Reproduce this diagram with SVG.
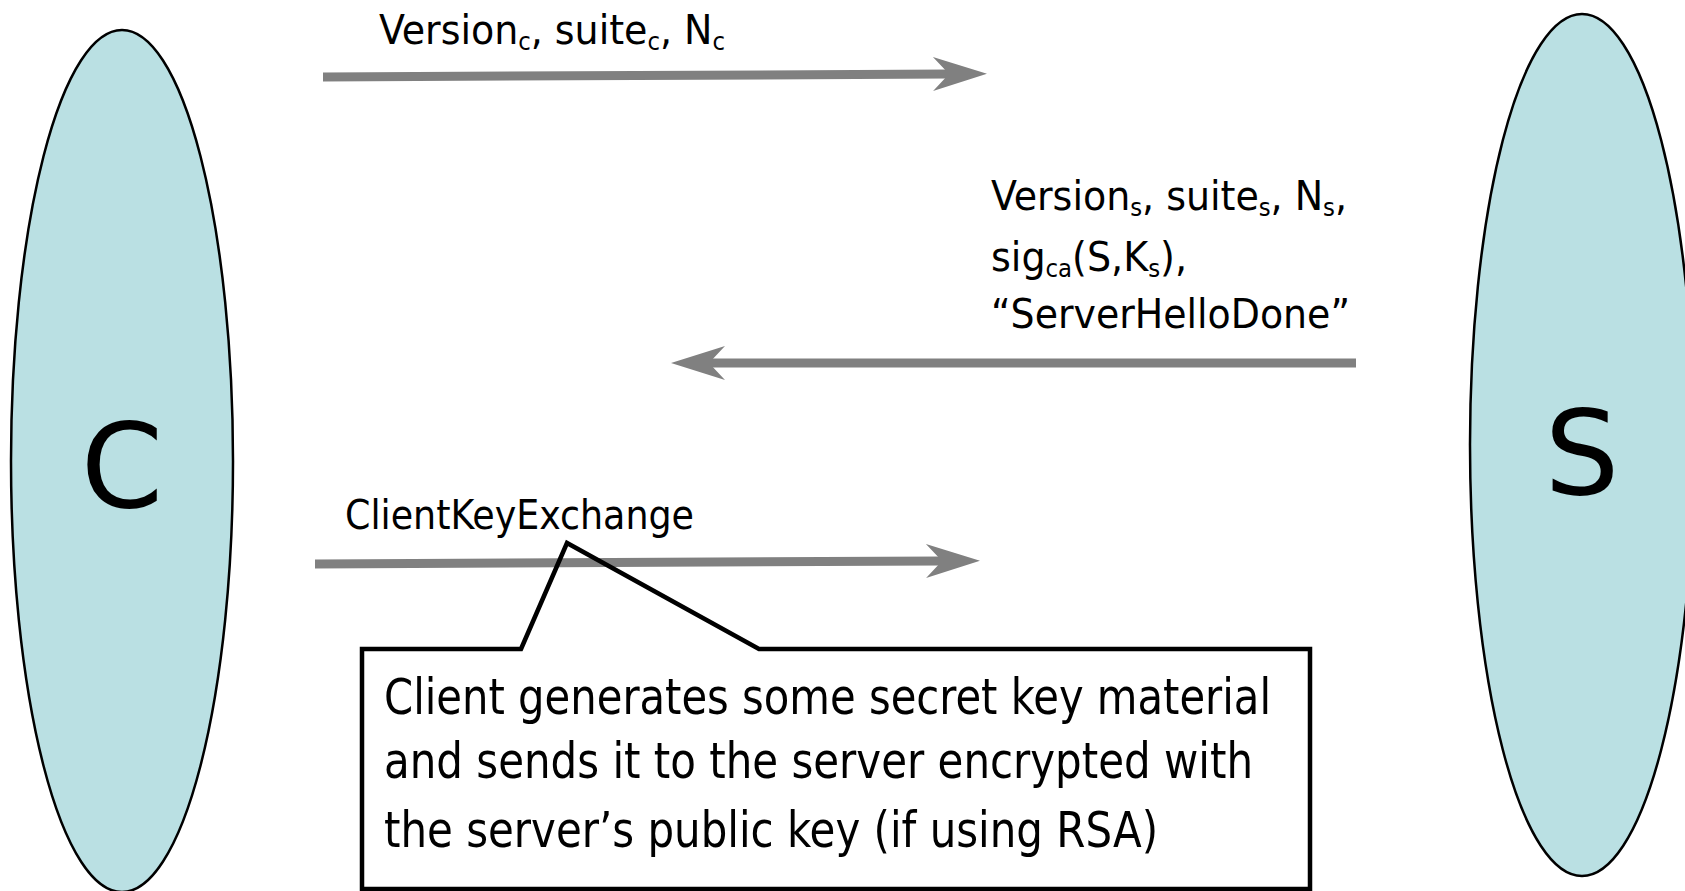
<svg xmlns="http://www.w3.org/2000/svg" width="1685" height="891" viewBox="0 0 1685 891">
  <style>
    .party { fill: #BAE0E3; stroke: #000; stroke-width: 2.5; }
    .party-label { font-family: "DejaVu Sans", "Liberation Sans", sans-serif; font-size: 118px; fill: #000; text-anchor: middle; }
    .msg { font-family: "DejaVu Sans Condensed", "DejaVu Sans", sans-serif; font-size: 40px; fill: #000; }
    .note { font-family: "DejaVu Sans Condensed", "DejaVu Sans", sans-serif; font-size: 50px; fill: #000; }
    .sub { font-size: 24px; }
    .flow { stroke: #808080; stroke-width: 9; fill: none; }
    .callout { fill: none; stroke: #000; stroke-width: 4.5; stroke-linejoin: miter; }
  </style>
  <defs>
    <!-- barbed head; reference point sits in the notch so the shaft stops there -->
    <marker id="head" markerUnits="userSpaceOnUse" viewBox="-2 -19 60 38" refX="16" refY="0" markerWidth="60" markerHeight="38" orient="auto">
      <path d="M54,0 L0,-17 L16,0 L0,17 Z" fill="#808080"/>
    </marker>
  </defs>

  <rect width="1685" height="891" fill="#fff"/>

  <!-- Client -->
  <g id="client">
    <ellipse class="party" cx="122" cy="461" rx="111" ry="431"/>
    <text class="party-label" x="122" y="507">C</text>
  </g>

  <!-- Server -->
  <g id="server">
    <ellipse class="party" cx="1582" cy="445" rx="112" ry="431"/>
    <text class="party-label" x="1582" y="494">S</text>
  </g>

  <!-- Messages -->
  <g id="connectors">
    <line class="flow" x1="323" y1="77" x2="949" y2="74" marker-end="url(#head)"/>
    <line class="flow" x1="1356" y1="363" x2="709" y2="363" marker-end="url(#head)"/>
    <line class="flow" x1="315" y1="564" x2="942" y2="561" marker-end="url(#head)"/>
  </g>

  <g id="client-hello-label">
    <text class="msg" x="379" y="44" textLength="346" lengthAdjust="spacingAndGlyphs">Version<tspan class="sub" dy="6">c</tspan><tspan dy="-6">, suite</tspan><tspan class="sub" dy="6">c</tspan><tspan dy="-6">, N</tspan><tspan class="sub" dy="6">c</tspan></text>
  </g>

  <g id="server-hello-label">
    <text class="msg" x="991" y="210" textLength="356" lengthAdjust="spacingAndGlyphs">Version<tspan class="sub" dy="6">s</tspan><tspan dy="-6">, suite</tspan><tspan class="sub" dy="6">s</tspan><tspan dy="-6">, N</tspan><tspan class="sub" dy="6">s</tspan><tspan dy="-6">,</tspan></text>
    <text class="msg" x="991" y="271" textLength="196" lengthAdjust="spacingAndGlyphs">sig<tspan class="sub" dy="6">ca</tspan><tspan dy="-6">(S,K</tspan><tspan class="sub" dy="6">s</tspan><tspan dy="-6">),</tspan></text>
    <text class="msg" x="991" y="328" textLength="359" lengthAdjust="spacingAndGlyphs">“ServerHelloDone”</text>
  </g>

  <g id="key-exchange-label">
    <text class="msg" x="345" y="529" textLength="349" lengthAdjust="spacingAndGlyphs">ClientKeyExchange</text>
  </g>

  <!-- Callout explaining the key exchange -->
  <g id="callout">
    <path class="callout" d="M521,649 L567,543 L759,649 L1310,649 L1310,889 L362,889 L362,649 Z"/>
    <text class="note" x="384" y="714" textLength="887" lengthAdjust="spacingAndGlyphs">Client generates some secret key material</text>
    <text class="note" x="384" y="778" textLength="869" lengthAdjust="spacingAndGlyphs">and sends it to the server encrypted with</text>
    <text class="note" x="384" y="847" textLength="774" lengthAdjust="spacingAndGlyphs">the server’s public key (if using RSA)</text>
  </g>
</svg>
